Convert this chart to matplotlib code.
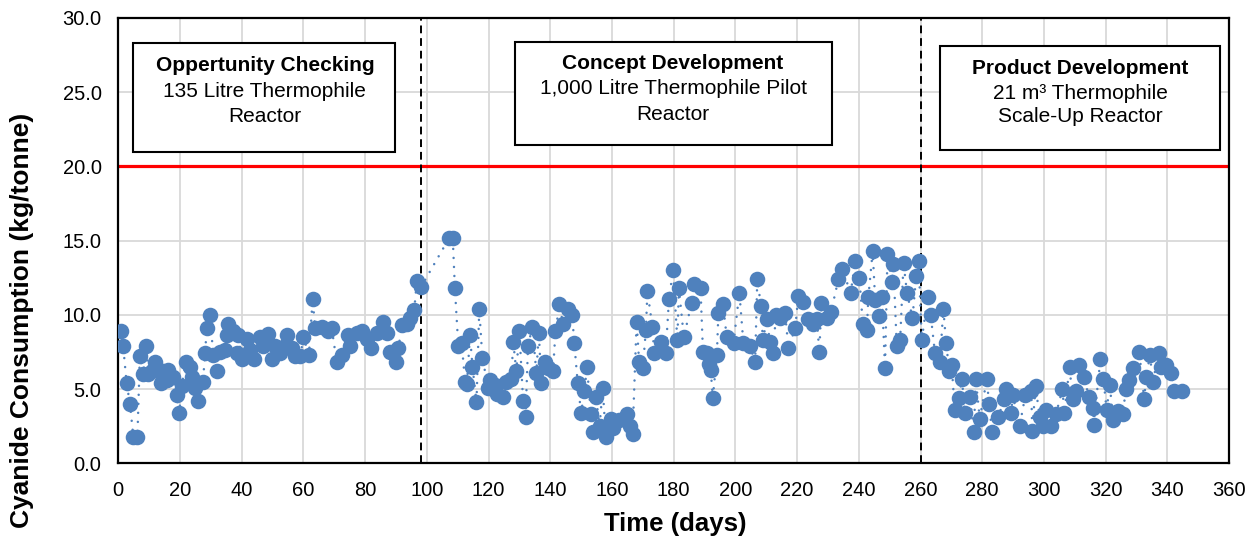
import matplotlib
matplotlib.use("Agg")
import matplotlib.pyplot as plt
from matplotlib.patches import Rectangle

plt.rcParams['font.family'] = ['Liberation Sans', 'DejaVu Sans']

# daily cyanide consumption
days = [0.9, 1.6, 2.7, 3.8, 4.9, 6.2, 7.0, 8.1, 9.0, 9.7, 10.8, 11.9, 14.0, 14.6,
        15.7, 16.2, 17.8, 18.9, 19.8, 20.5, 21.9, 23.2, 23.8, 24.9, 25.7, 27.4,
        28.2, 28.6, 29.7, 30.8, 31.9, 33.0, 34.6, 35.1, 35.7, 37.3, 38.4, 38.9,
        40.0, 41.6, 42.7, 44.0, 45.9, 47.0, 48.6, 49.7, 50.8, 52.4, 54.0, 54.6,
        56.2, 57.3, 59.0, 60.0, 61.8, 63.0, 63.8, 65.9, 68.0, 69.2, 70.8, 72.4,
        74.3, 75.1, 77.3, 78.9, 80.5, 82.0, 83.8, 85.9, 87.0, 88.1, 90.0, 90.8,
        91.9, 93.5, 94.6, 95.9, 96.8, 98.2,
        107.3, 108.4, 109.1, 110.2, 111.3, 112.4, 113.0, 114.0, 114.8, 116.1,
        117.0, 118.0, 119.9, 120.4, 122.0, 122.6, 124.7, 125.8, 127.4, 128.0,
        129.0, 130.0, 131.2, 132.0, 132.8, 134.2, 135.5, 136.3, 137.1, 138.2,
        139.2, 140.9, 141.7, 143.0, 144.1, 145.7, 147.1, 147.8, 148.9, 150.0,
        151.1, 151.9, 153.2, 153.8, 154.8, 156.0, 157.0, 158.0, 159.7, 160.2,
        162.4, 165.0, 166.0, 166.7, 168.0, 168.8, 170.0, 171.0, 171.5, 173.1,
        173.7, 175.8, 177.4, 178.5, 179.8, 181.2, 181.7, 183.3, 185.8, 186.6,
        188.7, 189.5, 190.7, 191.4, 192.0, 192.7, 194.0, 194.5, 196.0, 197.2,
        199.4, 201.3, 202.6, 204.8, 206.4, 207.1, 208.3, 208.9, 210.2, 211.2,
        212.1, 213.2, 214.5, 216.1, 217.2, 219.4, 220.4, 222.0, 223.7, 225.1,
        226.4, 227.2, 227.9, 229.6, 231.0, 233.4, 234.5, 237.4, 238.8, 240.2,
        241.3, 242.6, 243.1, 244.5, 245.3, 246.7, 247.5, 248.5, 249.3, 250.7,
        251.2, 252.3, 253.4, 254.5, 255.6, 257.4, 258.6, 259.4,
        260.4, 262.3, 263.3, 264.7, 266.3, 267.4, 268.3, 269.3, 270.1, 271.1,
        272.5, 273.4, 274.4, 276.0, 277.3, 277.9, 279.2, 281.5, 282.2, 283.2,
        285.1, 287.2, 287.6, 289.4, 289.9, 292.1, 294.0, 295.9, 296.2, 297.3,
        298.6, 299.6, 300.7, 302.3, 303.9, 306.0, 306.6, 308.3, 309.3, 310.4,
        311.5, 313.1, 314.5, 315.8, 316.1, 318.3, 319.3, 320.3, 321.4, 322.3,
        324.0, 325.5, 326.6, 327.7, 328.8, 330.9, 332.5, 333.1, 334.4, 335.2,
        337.4, 337.9, 339.5, 341.2, 342.2, 344.7]
cyanide = [8.9, 7.9, 5.4, 4.0, 1.75, 1.75, 7.2, 6.0, 7.9, 6.0, 6.2, 6.85, 5.4, 6.2,
           5.6, 6.3, 5.8, 4.6, 3.4, 5.2, 6.8, 6.5, 5.8, 5.1, 4.2, 5.5,
           7.4, 9.1, 10.0, 7.3, 6.2, 7.5, 7.6, 8.65, 9.4, 8.9, 7.4, 8.65,
           7.0, 8.4, 7.6, 7.0, 8.5, 7.9, 8.7, 7.0, 7.9, 7.4, 7.9, 8.65,
           7.75, 7.2, 7.2, 8.5, 7.3, 11.1, 9.1, 9.2, 8.9, 9.1, 6.8, 7.3,
           8.65, 7.9, 8.8, 8.9, 8.4, 7.75, 8.8, 9.55, 8.8, 7.5, 6.85, 7.75,
           9.3, 9.4, 9.8, 10.3, 12.3, 11.9,
           15.2, 15.2, 11.8, 7.9, 8.1, 5.5, 5.35, 8.65, 6.5, 4.1,
           10.4, 7.1, 5.1, 5.6, 5.3, 4.7, 4.5, 5.5, 5.7, 8.2,
           6.2, 8.9, 4.2, 3.15, 7.9, 9.2, 6.1, 8.8, 5.4, 6.85,
           6.4, 6.2, 8.9, 10.7, 9.4, 10.4, 10.0, 8.1, 5.4, 3.4,
           4.9, 6.5, 3.3, 2.1, 4.5, 2.5, 5.1, 1.8, 3.0, 2.4,
           2.9, 3.3, 2.5, 2.0, 9.55, 6.85, 6.4, 9.0, 11.6, 9.2,
           7.4, 8.2, 7.4, 11.1, 13.0, 8.3, 11.8, 8.5, 10.8, 12.1,
           11.8, 7.5, 7.4, 6.7, 6.3, 4.4, 7.3, 10.1, 10.7, 8.5,
           8.1, 11.5, 8.1, 7.9, 6.8, 12.4, 10.6, 8.3, 9.7, 8.2,
           7.4, 10.0, 9.8, 10.1, 7.8, 9.1, 11.3, 10.9, 9.7, 9.4,
           9.7, 7.5, 10.8, 9.8, 10.2, 12.4, 13.1, 11.5, 13.6, 12.5,
           9.4, 9.0, 11.2, 14.3, 11.0, 9.9, 11.2, 6.4, 14.1, 12.2,
           13.4, 7.9, 8.3, 13.5, 11.5, 9.8, 12.6, 13.6,
           8.3, 11.2, 10.0, 7.4, 6.85, 10.4, 8.1, 6.25, 6.6, 3.6,
           4.4, 5.7, 3.4, 4.5, 2.1, 5.7, 3.0, 5.7, 4.0, 2.1,
           3.1, 4.3, 5.0, 3.4, 4.6, 2.5, 4.6, 4.9, 2.2, 5.2,
           3.1, 2.5, 3.6, 2.5, 3.3, 5.0, 3.4, 6.5, 4.3, 4.9,
           6.6, 5.8, 4.5, 3.7, 2.6, 7.0, 5.7, 3.6, 5.3, 2.9,
           3.5, 3.3, 5.0, 5.6, 6.4, 7.5, 4.3, 5.8, 7.3, 5.5,
           7.4, 6.5, 6.6, 6.1, 4.9, 4.9]

limit = 20.0
phase_breaks = [98, 260]
phase_titles = ["Oppertunity Checking", "Concept Development", "Product Development"]
phase_lines = [["135 Litre Thermophile", "Reactor"],
               ["1,000 Litre Thermophile Pilot", "Reactor"],
               ["21 m\u00b3 Thermophile", "Scale-Up Reactor"]]

# box geometry in data units (x0, x1, y0, y1) and text centre x
boxes = [(4.8, 89.7, 20.96, 28.3, 47.5),
         (128.6, 231.2, 21.45, 28.41, 179.8),
         (266.3, 357.1, 21.11, 28.14, 311.7)]
text_rows = [(26.77, 25.05, 23.37),
             (26.94, 25.22, 23.47),
             (26.62, 24.93, 23.36)]

fig = plt.figure(figsize=(12.58, 5.42), dpi=100)
ax = fig.add_axes([0.094, 0.1452, 0.883, 0.8216])

blue = '#4F81BD'
ax.plot(days, cyanide, color=blue, lw=1.8, linestyle=(0, (0.01, 3.6)),
        dash_capstyle='round', marker='o', markersize=11.2, markeredgewidth=0,
        zorder=3)

ax.axhline(limit, color='#FF0000', lw=2.3, zorder=2)
for b in phase_breaks:
    ax.axvline(b, color='black', lw=1.4, linestyle=(0, (4, 2.5)), zorder=2)

for (x0, x1, y0, y1, xc), title, lines, rows in zip(boxes, phase_titles, phase_lines, text_rows):
    ax.add_patch(Rectangle((x0, y0), x1 - x0, y1 - y0, facecolor='white',
                           edgecolor='black', lw=1.5, zorder=4))
    ax.text(xc, rows[0], title, ha='center', va='center', fontsize=15,
            fontweight='bold', zorder=5)
    ax.text(xc, rows[1], lines[0], ha='center', va='center', fontsize=15, zorder=5)
    ax.text(xc, rows[2], lines[1], ha='center', va='center', fontsize=15, zorder=5)

ax.set_xlim(0, 360)
ax.set_ylim(0, 30)
ax.set_xticks(range(0, 361, 20))
ax.set_yticks(range(0, 31, 5))
ax.set_yticklabels([f"{v:.1f}" for v in range(0, 31, 5)])
ax.tick_params(axis='both', length=0, labelsize=14.5)
ax.tick_params(axis='x', pad=13)
ax.tick_params(axis='y', pad=12)
ax.grid(True, color='#D9D9D9', lw=1.3, zorder=0)
ax.set_axisbelow(True)
for s in ax.spines.values():
    s.set_linewidth(1.6)
    s.set_color('black')

fig.text(0.5366, 0.033, "Time (days)", ha='center', va='center',
         fontsize=18.5, fontweight='bold')
fig.text(0.0175, 0.408, "Cyanide Consumption (kg/tonne)", ha='center',
         va='center', rotation=90, fontsize=19, fontweight='bold')

fig.savefig("out.png", dpi=100)
